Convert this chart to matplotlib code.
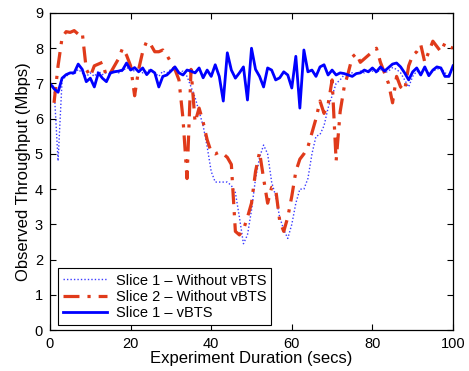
import matplotlib
matplotlib.use("Agg")
import matplotlib.pyplot as plt
import numpy as np

plt.rcParams['font.family'] = ['Liberation Sans', 'DejaVu Sans']

# Time axis (secs)
t = list(range(0, 101))
t_red = list(range(1, 101))

# Slice 1 - vBTS (solid blue)
vbts = [7.0, 6.85, 6.75, 7.15, 7.25, 7.3, 7.3, 7.55, 7.4, 7.05,
        7.15, 6.9, 7.3, 7.15, 7.05, 7.3, 7.33, 7.35, 7.38, 7.58,
        7.38, 7.45, 7.33, 7.44, 7.25, 7.38, 7.3, 6.9, 7.2, 7.24,
        7.35, 7.47, 7.3, 7.24, 7.38, 7.35, 7.3, 7.44, 7.16, 7.38,
        7.2, 7.53, 7.2, 6.5, 7.87, 7.38, 7.15, 7.3, 7.47, 6.53,
        8.0, 7.4, 7.2, 6.9, 7.44, 7.38, 7.1, 7.16, 7.33, 7.24,
        6.87, 7.77, 6.3, 7.95, 7.33, 7.38, 7.2, 7.47, 7.53, 7.24,
        7.38, 7.24, 7.3, 7.28, 7.24, 7.2, 7.28, 7.3, 7.38, 7.33,
        7.44, 7.33, 7.47, 7.35, 7.45, 7.55, 7.58, 7.47, 7.3, 7.1,
        7.33, 7.44, 7.24, 7.47, 7.22, 7.38, 7.47, 7.44, 7.2, 7.2,
        7.5]

# Slice 1 - Without vBTS (dotted blue)
s1_without = [7.0, 6.9, 4.8, 7.1, 7.2, 7.3, 7.25, 7.4, 7.3, 7.2,
              7.3, 7.2, 7.35, 7.25, 7.3, 7.25, 7.4, 7.3, 7.35, 7.45,
              7.4, 7.35, 7.4, 7.3, 7.35, 7.4, 7.3, 7.2, 7.35, 7.3,
              7.4, 7.35, 7.3, 7.35, 7.2, 6.9, 6.6, 6.2, 5.8, 5.2,
              4.5, 4.2, 4.2, 4.2, 4.2, 4.1, 3.9, 3.2, 2.45, 2.7,
              3.4, 4.3, 4.9, 5.25, 5.0, 4.2, 3.8, 3.2, 2.85, 2.6,
              3.0, 3.6, 4.0, 4.0, 4.3, 5.0, 5.5, 5.55, 5.8, 6.3,
              6.65, 7.0, 7.1, 7.25, 7.3, 7.3, 7.25, 7.35, 7.3, 7.4,
              7.35, 7.3, 7.4, 7.3, 7.35, 7.45, 7.4, 7.3, 7.1, 6.9,
              7.2, 7.35, 7.3, 7.4, 7.3, 7.35, 7.4, 7.45, 7.3, 7.25,
              7.4]

# Slice 2 - Without vBTS (dash-dot red), starts at t=1
s2_without = [6.45, 7.5, 8.3, 8.47, 8.45, 8.5, 8.4, 8.45, 7.4,
              7.2, 7.5, 7.55, 7.6, 7.2, 7.3, 7.5, 7.7, 8.0, 7.8,
              7.5, 6.65, 7.4, 7.9, 8.2, 8.1, 7.9, 7.9, 7.95, 7.8,
              7.6, 7.4, 7.1, 6.0, 4.3, 7.4, 5.9, 6.3, 5.9, 5.4,
              5.05, 5.0, 5.05, 5.0, 4.9, 4.7, 2.8, 2.7, 2.85, 3.2,
              3.6, 4.5, 5.05, 4.3, 3.6, 4.05, 4.0, 3.1, 2.8, 3.2,
              3.8, 4.5, 4.85, 5.0, 5.2, 5.6, 6.0, 6.5, 6.15, 6.4,
              7.1, 4.8, 6.2, 6.9, 7.3, 7.75, 7.85, 7.6, 7.7, 7.8,
              7.9, 8.0, 7.6, 7.3, 7.0, 6.45, 7.2, 6.9, 6.8, 7.5,
              7.8, 7.9, 8.1, 7.6, 7.9, 8.2, 8.05, 7.9, 8.15, 8.05,
              8.0]

x_ticks = [0, 20, 40, 60, 80, 100]
y_ticks = [0, 1, 2, 3, 4, 5, 6, 7, 8, 9]

fig = plt.figure(figsize=(4.69, 3.71), dpi=100)
ax = fig.add_axes([50/469, 1-330/371, 403/469, 317/371])

ax.plot(t, s1_without, color='#3b3bff', linestyle=(0, (1, 1.5)), linewidth=1.0,
        label='Slice 1 – Without vBTS')
ax.plot(t_red, s2_without, color='#e03a1a', linestyle=(0, (5, 2.5, 1, 2.5)), linewidth=2.3,
        label='Slice 2 – Without vBTS')
ax.plot(t, vbts, color='#0000ff', linestyle='-', linewidth=2.0,
        label='Slice 1 – vBTS')

ax.set_xlim(0, 100)
ax.set_ylim(0, 9)
ax.set_xticks(x_ticks)
ax.set_yticks(y_ticks)
ax.tick_params(direction='in', top=True, right=True, labelsize=10.5, length=4, width=0.8, pad=5)
for s in ax.spines.values():
    s.set_linewidth(0.9)

ax.set_xlabel('Experiment Duration (secs)', fontsize=12, labelpad=0)
ax.set_ylabel('Observed Throughput (Mbps)', fontsize=12, labelpad=3)

leg = ax.legend(loc='lower left', bbox_to_anchor=(8/403, 5/317), borderaxespad=0,
                fontsize=10.5, frameon=True, fancybox=False, framealpha=1,
                edgecolor='black', handlelength=3.0, borderpad=0.35,
                labelspacing=0.15, handletextpad=0.6)
leg.get_frame().set_linewidth(0.8)

fig.savefig('out.png', dpi=100)
